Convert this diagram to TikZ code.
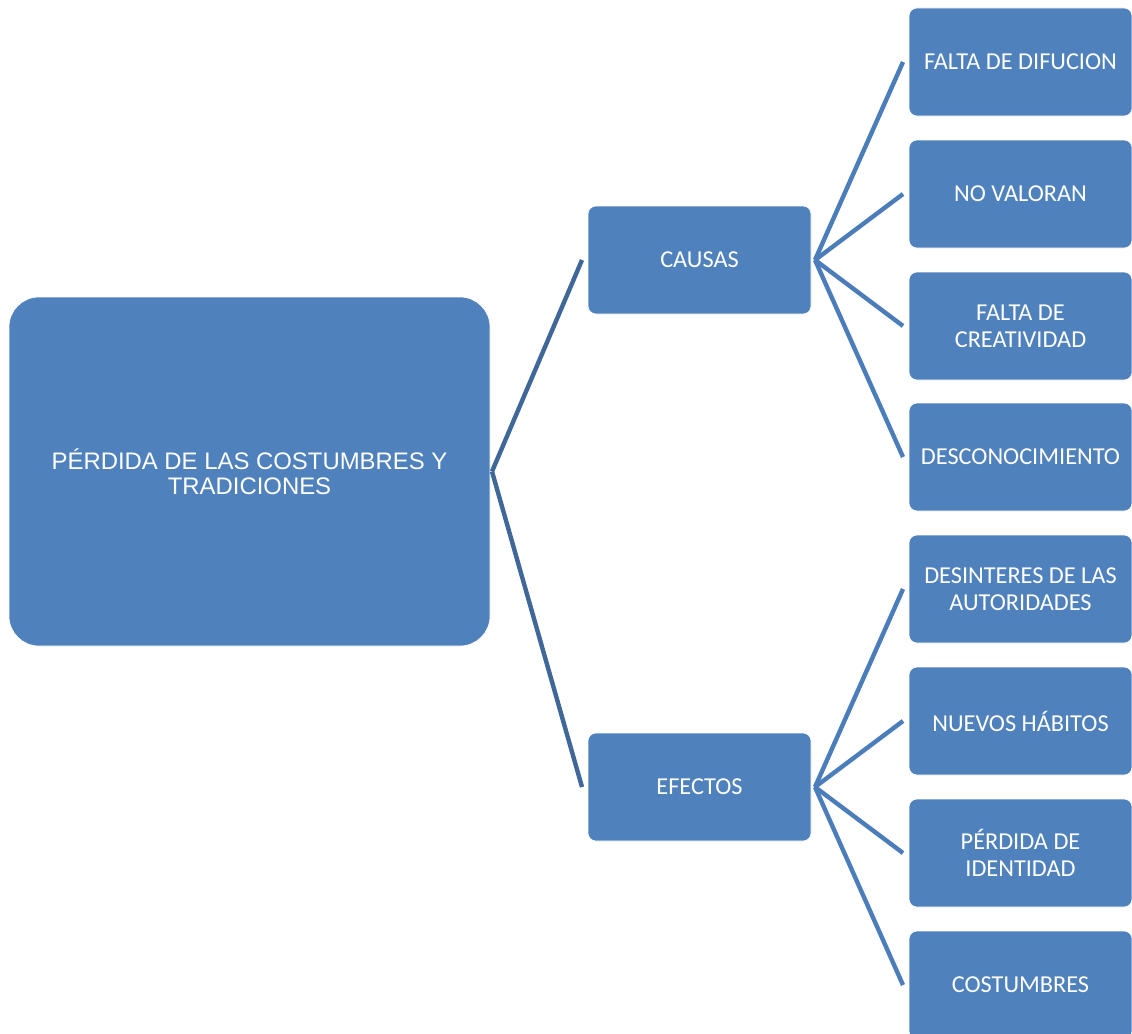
\documentclass[tikz,border=0pt]{standalone}
\usepackage{fontspec}
\setmainfont{Carlito}
\newfontfamily\arialfont{Liberation Sans}
\definecolor{boxblue}{HTML}{4F81BD}
\definecolor{linkdark}{HTML}{3F6899}
\definecolor{linkblue}{HTML}{4A7DBA}
\begin{document}
\begin{tikzpicture}[x=1pt,y=-1pt,
  box/.style={anchor=north west,fill=boxblue,draw=white,line width=0.6pt,rounded corners=8pt,
    minimum width=223pt,minimum height=108pt,inner sep=0pt,outer sep=0pt,
    text=white,align=center,font=\fontsize{24.3}{27}\selectfont},
  bigbox/.style={anchor=north west,fill=boxblue,draw=white,line width=0.6pt,rounded corners=30pt,
    minimum width=481pt,minimum height=349pt,inner sep=0pt,outer sep=0pt,
    text=white,align=center,font=\arialfont\fontsize{23.9}{25}\selectfont},
  mainlink/.style={draw=linkdark,line width=4.4pt},
  sublink/.style={draw=linkblue,line width=4.4pt}]
\useasboundingbox (0,0) rectangle (1132,1033);
\clip (0,0) rectangle (1132,1033);
\node[bigbox] (main) at (9,297) {PÉRDIDA DE LAS COSTUMBRES Y\\TRADICIONES};
\node[box] (causas) at (588,206) {CAUSAS};
\node[box] (efectos) at (588,733) {EFECTOS};
\node[box] (c1) at (909,8) {FALTA DE DIFUCION};
\node[box] (c2) at (909,140) {NO VALORAN};
\node[box] (c3) at (909,272) {FALTA DE\\CREATIVIDAD};
\node[box] (c4) at (909,403) {DESCONOCIMIENTO};
\node[box] (e1) at (909,535) {DESINTERES DE LAS\\AUTORIDADES};
\node[box] (e2) at (909,667) {NUEVOS HÁBITOS};
\node[box] (e3) at (909,799) {PÉRDIDA DE\\IDENTIDAD};
\node[box] (e4) at (909,931) {COSTUMBRES};
\draw[mainlink] ([xshift=2pt]main.east) -- ([xshift=-6pt]causas.west);
\draw[mainlink] ([xshift=2pt]main.east) -- ([xshift=-6pt]efectos.west);
\foreach \n in {c1,c2,c3,c4}{
  \draw[sublink] ([xshift=4pt]causas.east) -- ([xshift=-6pt]\n.west);
}
\foreach \n in {e1,e2,e3,e4}{
  \draw[sublink] ([xshift=4pt]efectos.east) -- ([xshift=-6pt]\n.west);
}
\end{tikzpicture}
\end{document}
